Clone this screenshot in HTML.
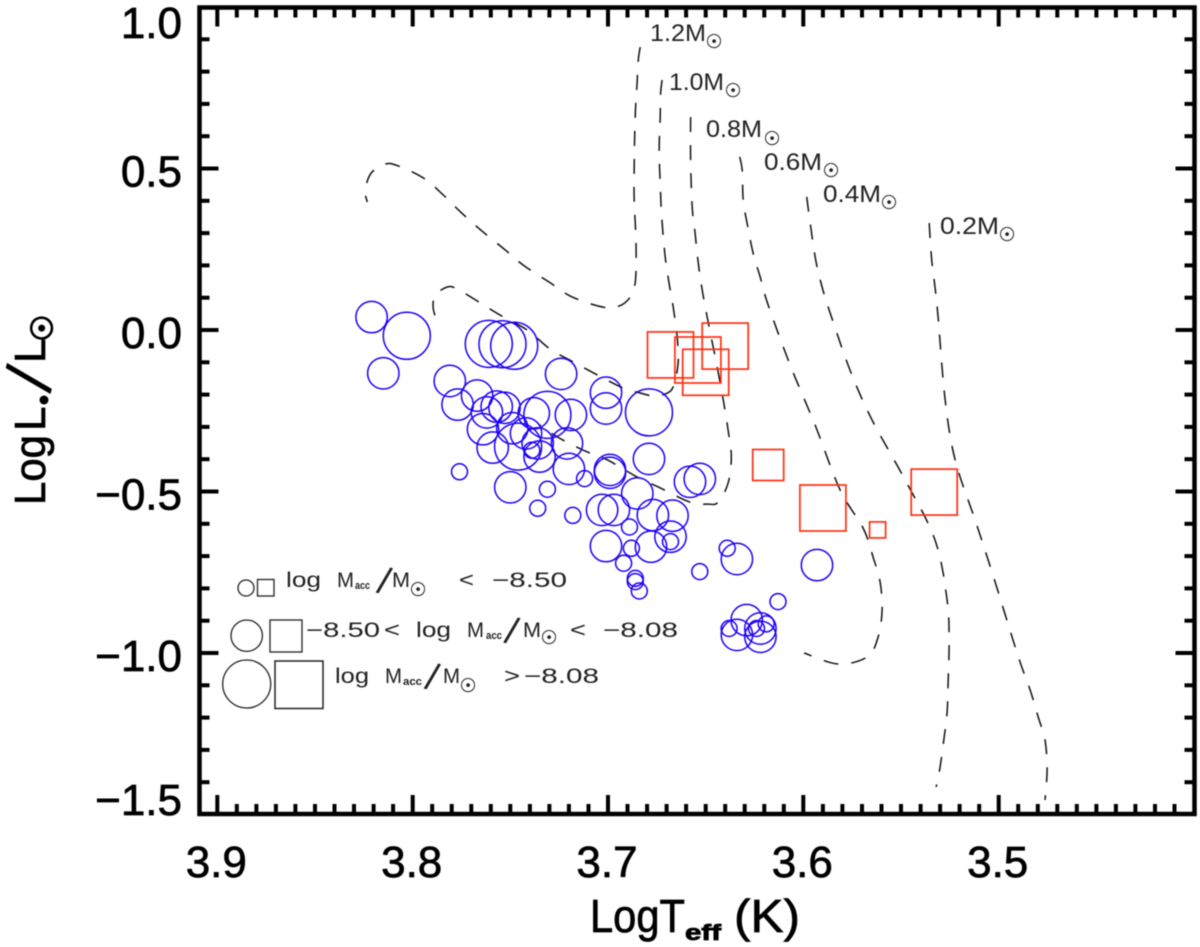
<!DOCTYPE html>
<html lang="en">
<head>
<meta charset="utf-8">
<title>HR diagram</title>
<style>
html,body{margin:0;padding:0;background:#fff;width:1200px;height:947px;overflow:hidden}
svg{display:block;position:absolute;left:0;top:0;filter:blur(0.4px)}
text{font-family:"Liberation Sans","DejaVu Sans",sans-serif}
.big{font-size:44px;fill:#000;stroke:#000;stroke-width:.7px}
.leg{font-size:21px;fill:#222}
.mass{font-size:24px;fill:#222}
.acc{font-size:11px;fill:#222;font-weight:bold}
.slash{font-size:38px;fill:#222;text-anchor:middle}
.sun{font-family:"DejaVu Sans",sans-serif;font-size:19px;fill:#222;stroke:#222;stroke-width:.3px;text-anchor:middle}
</style>
</head>
<body>
<svg id="chart" xmlns="http://www.w3.org/2000/svg" width="1200" height="947" viewBox="0 0 1200 947">
  <rect width="1200" height="947" fill="#fff"/>
  <g id="tracks"></g>
  <g id="stars"></g>
  <g id="axes"></g>

  <g transform="translate(45,503) rotate(-90)">
    <text class="big" x="-2" y="0" textLength="70" lengthAdjust="spacingAndGlyphs">Log</text>
    <text class="big" x="72" y="0">L</text>
    <circle cx="103" cy="-1" r="4.5" fill="#000"/>
    <text transform="translate(124.5,-16) rotate(15)" x="0" y="24" text-anchor="middle" style="font-size:68px;fill:#000">/</text>
    <text class="big" x="140" y="0">L</text>
    <text class="sun" x="175" y="7.5" style="font-size:30px;fill:#000;stroke:#000;stroke-width:1.5px">☉</text>
  </g>

  <g>
    <text class="big" x="590" y="932" style="font-size:46px" textLength="95" lengthAdjust="spacingAndGlyphs">LogT</text>
    <text x="685" y="940" style="font-size:22px;font-weight:bold;stroke:#000;stroke-width:.8px" textLength="36" lengthAdjust="spacingAndGlyphs">eff</text>
    <text class="big" x="734" y="932" style="font-size:46px" textLength="66" lengthAdjust="spacingAndGlyphs">(K)</text>
  </g>

  <g>
    <g><text class="mass" x="650" y="41" textLength="56" lengthAdjust="spacingAndGlyphs">1.2M</text><text class="sun" x="714" y="48">☉</text></g>
    <g><text class="mass" x="669" y="90" textLength="55" lengthAdjust="spacingAndGlyphs">1.0M</text><text class="sun" x="733" y="97">☉</text></g>
    <g><text class="mass" x="706" y="137" textLength="56" lengthAdjust="spacingAndGlyphs">0.8M</text><text class="sun" x="772" y="145">☉</text></g>
    <g><text class="mass" x="764" y="170" textLength="58" lengthAdjust="spacingAndGlyphs">0.6M</text><text class="sun" x="831" y="177">☉</text></g>
    <g><text class="mass" x="823" y="202" textLength="58" lengthAdjust="spacingAndGlyphs">0.4M</text><text class="sun" x="889" y="209">☉</text></g>
    <g><text class="mass" x="940" y="234" textLength="59" lengthAdjust="spacingAndGlyphs">0.2M</text><text class="sun" x="1007" y="241">☉</text></g>
  </g>

  <g fill="none">
    <g>
      <circle cx="246" cy="588" r="8" stroke="#222" stroke-width="1.3"/>
      <rect x="257.5" y="579.5" width="16.5" height="16.5" stroke="#222" stroke-width="1.3"/>
      <text class="leg" x="286" y="587" textLength="35" lengthAdjust="spacingAndGlyphs">log</text>
      <text class="leg" x="337" y="587" textLength="17" lengthAdjust="spacingAndGlyphs">M</text>
      <text class="acc" x="355" y="589" textLength="15" lengthAdjust="spacingAndGlyphs">acc</text>
      <text class="slash" transform="translate(384.5,580) rotate(15)" x="0" y="14">/</text>
      <text class="leg" x="392" y="587" textLength="18" lengthAdjust="spacingAndGlyphs">M</text>
      <text class="sun" x="418" y="596">☉</text>
      <text class="leg" x="459" y="587" textLength="15" lengthAdjust="spacingAndGlyphs">&lt;</text>
      <text class="leg" x="492" y="587" textLength="75" lengthAdjust="spacingAndGlyphs">−8.50</text>
    </g>
    <g>
      <circle cx="246.7" cy="635.7" r="15.7" stroke="#222" stroke-width="1.3"/>
      <rect x="270" y="620" width="32" height="32" stroke="#222" stroke-width="1.3"/>
      <text class="leg" x="306" y="637" textLength="74" lengthAdjust="spacingAndGlyphs">−8.50</text>
      <text class="leg" x="384" y="637" textLength="16" lengthAdjust="spacingAndGlyphs">&lt;</text>
      <text class="leg" x="416" y="637" textLength="35" lengthAdjust="spacingAndGlyphs">log</text>
      <text class="leg" x="467" y="637" textLength="17" lengthAdjust="spacingAndGlyphs">M</text>
      <text class="acc" x="486" y="639" textLength="16" lengthAdjust="spacingAndGlyphs">acc</text>
      <text class="slash" transform="translate(512,630) rotate(15)" x="0" y="14">/</text>
      <text class="leg" x="523" y="637" textLength="18" lengthAdjust="spacingAndGlyphs">M</text>
      <text class="sun" x="549" y="644">☉</text>
      <text class="leg" x="570" y="637" textLength="16" lengthAdjust="spacingAndGlyphs">&lt;</text>
      <text class="leg" x="603" y="637" textLength="75" lengthAdjust="spacingAndGlyphs">−8.08</text>
    </g>
    <g>
      <circle cx="246.7" cy="684" r="24" stroke="#222" stroke-width="1.3"/>
      <rect x="275" y="661" width="48" height="47.5" stroke="#222" stroke-width="1.5"/>
      <text class="leg" x="335" y="683" textLength="34" lengthAdjust="spacingAndGlyphs">log</text>
      <text class="leg" x="385" y="683" textLength="17" lengthAdjust="spacingAndGlyphs">M</text>
      <text class="acc" x="403" y="685" textLength="19" lengthAdjust="spacingAndGlyphs">acc</text>
      <text class="slash" transform="translate(432.5,676) rotate(15)" x="0" y="14">/</text>
      <text class="leg" x="443" y="683" textLength="17" lengthAdjust="spacingAndGlyphs">M</text>
      <text class="sun" x="468" y="692">☉</text>
      <text class="leg" x="504" y="683" textLength="16" lengthAdjust="spacingAndGlyphs">&gt;</text>
      <text class="leg" x="524" y="683" textLength="75" lengthAdjust="spacingAndGlyphs">−8.08</text>
    </g>
  </g>
</svg>
<script>
// ---- data ----
var xTickLabels = ["3.9","3.8","3.7","3.6","3.5"];
var yTickLabels = ["1.0","0.5","0.0","−0.5","−1.0","−1.5"];
var xMajorTicks = [3.9,3.8,3.7,3.6,3.5];
var yMajorTicks = [1.0,0.5,0.0,-0.5,-1.0,-1.5];

var circleLogT = [3.821,3.803,3.815,3.761,3.754,3.748,3.781,3.724,3.701,3.701,3.679,3.777,3.767,3.762,3.757,3.753,3.764,3.738,3.731,3.719,3.759,3.746,3.735,3.721,3.749,3.742,3.736,3.739,3.720,3.699,3.699,3.679,3.712,3.776,3.750,3.731,3.736,3.718,3.703,3.697,3.685,3.677,3.667,3.689,3.701,3.688,3.678,3.668,3.668,3.692,3.686,3.686,3.684,3.658,3.653,3.653,3.639,3.634,3.593,3.613,3.629,3.638,3.634,3.622,3.622,3.619,3.624];
var circleLogL = [0.040,-0.018,-0.134,-0.043,-0.044,-0.049,-0.158,-0.136,-0.194,-0.243,-0.255,-0.231,-0.203,-0.255,-0.237,-0.241,-0.307,-0.258,-0.263,-0.263,-0.364,-0.361,-0.392,-0.351,-0.304,-0.320,-0.351,-0.372,-0.430,-0.433,-0.442,-0.399,-0.460,-0.439,-0.487,-0.493,-0.552,-0.574,-0.557,-0.557,-0.506,-0.573,-0.575,-0.610,-0.669,-0.676,-0.671,-0.640,-0.655,-0.722,-0.769,-0.779,-0.808,-0.470,-0.461,-0.748,-0.676,-0.709,-0.728,-0.841,-0.898,-0.924,-0.944,-0.924,-0.950,-0.910,-0.924];
var circleSizeClass = [1,2,1,2,2,2,1,1,1,1,2,1,1,1,1,1,1,1,2,1,1,2,1,1,1,1,1,0,1,1,1,1,0,0,1,0,0,0,1,1,1,1,1,0,1,0,1,1,0,0,0,0,0,1,1,0,0,1,1,0,1,0,1,1,1,0,0];

var squareLogT = [3.668,3.654,3.650,3.640,3.618,3.590,3.562,3.533];
var squareLogL = [-0.077,-0.093,-0.131,-0.050,-0.418,-0.551,-0.619,-0.502];
var squareSizeClass = [2,2,2,2,1,2,0,2];

var track12T = [3.6835,3.6845,3.6851,3.6861,3.6866,3.6866,3.6858,3.6856,3.6861,3.6886,3.6943,3.7025,3.7183,3.7296,3.7434,3.7526,3.7639,3.7754,3.7843,3.7946,3.8074,3.814,3.8212,3.8243,3.8232];
var track12L = [0.876,0.836,0.765,0.659,0.505,0.402,0.300,0.217,0.146,0.102,0.074,0.071,0.102,0.146,0.201,0.248,0.303,0.365,0.418,0.471,0.508,0.514,0.486,0.433,0.396];
var track10T = [3.6723,3.673,3.6733,3.6738,3.6733,3.6725,3.6707,3.6684,3.6666,3.6646,3.6641,3.6666,3.6707,3.6769,3.6835,3.6922,3.7055,3.7178,3.7296,3.7414,3.7552,3.7654,3.7772,3.7823,3.7884,3.7895,3.7874];
var track10L = [0.774,0.737,0.659,0.557,0.455,0.350,0.226,0.133,0.071,-0.022,-0.102,-0.176,-0.198,-0.204,-0.195,-0.180,-0.139,-0.099,-0.059,0,0.046,0.084,0.127,0.133,0.108,0.068,0.025];
var track08T = [3.6577,3.6577,3.6569,3.6554,3.6538,3.6515,3.6492,3.6441,3.641,3.6385,3.6369,3.6385,3.6436,3.6487,3.6579,3.6733,3.6851,3.7004,3.7127,3.726,3.7347];
var track08L = [0.659,0.526,0.381,0.300,0.207,0.115,0.040,-0.115,-0.217,-0.310,-0.393,-0.474,-0.533,-0.539,-0.533,-0.489,-0.455,-0.402,-0.372,-0.331,-0.294];
var track06T = [3.6326,3.6313,3.6308,3.6288,3.6257,3.6221,3.618,3.6068,3.594,3.5812,3.5694,3.5643,3.5607,3.5597,3.5617,3.5673,3.5822,3.5996];
var track06L = [0.536,0.495,0.402,0.331,0.238,0.164,0.077,-0.108,-0.294,-0.495,-0.613,-0.703,-0.780,-0.867,-0.950,-1.012,-1.034,-1.000];
var track04T = [3.5983,3.5965,3.5937,3.5904,3.5863,3.5761,3.5648,3.5479,3.5326,3.5264,3.5254,3.5259,3.5264,3.5279,3.53,3.532];
var track04L = [0.412,0.331,0.217,0.133,0.053,-0.124,-0.279,-0.464,-0.650,-0.836,-0.966,-1.093,-1.183,-1.260,-1.353,-1.415];
var track02T = [3.5356,3.5343,3.5326,3.531,3.5274,3.5223,3.5121,3.5029,3.4906,3.4839,3.4798,3.4763,3.4752,3.4763];
var track02L = [0.331,0.217,0.133,0.040,-0.217,-0.402,-0.588,-0.759,-1.0,-1.115,-1.198,-1.269,-1.362,-1.455];

// ---- axis functions ----
function xScale(t){ return 217.3 + (3.9 - t) * 1953.5; }
function yScale(l){ return 330 - l * 323; }
var circleRadii = [8, 15.7, 23.5];
var squareSides = [16, 31, 46];
var NS = 'http://www.w3.org/2000/svg';
function mk(tag, parent, attrs){
  var e = document.createElementNS(NS, tag);
  for (var k in attrs) e.setAttribute(k, attrs[k]);
  parent.appendChild(e);
  return e;
}
function smoothPath(T, L){
  var p = T.map(function(t, i){ return [xScale(t), yScale(L[i])]; });
  var d = 'M' + p[0][0].toFixed(1) + ' ' + p[0][1].toFixed(1);
  for (var i = 0; i < p.length - 1; i++){
    var a = p[Math.max(i - 1, 0)], b = p[i], c = p[i + 1], e = p[Math.min(i + 2, p.length - 1)];
    d += 'C' + (b[0] + (c[0] - a[0]) / 6).toFixed(1) + ' ' + (b[1] + (c[1] - a[1]) / 6).toFixed(1) + ' ' +
         (c[0] - (e[0] - b[0]) / 6).toFixed(1) + ' ' + (c[1] - (e[1] - b[1]) / 6).toFixed(1) + ' ' +
         c[0].toFixed(1) + ' ' + c[1].toFixed(1);
  }
  return d;
}

// ---- tracks ----
var tracksG = document.getElementById('tracks');
[[track12T,track12L,'1-2'],[track10T,track10L,'1-0'],[track08T,track08L,'0-8'],[track06T,track06L,'0-6'],[track04T,track04L,'0-4'],[track02T,track02L,'0-2']].forEach(function(tr){
  var el = mk('path', tracksG, {d: smoothPath(tr[0], tr[1]), fill:'none', stroke:'#111', 'stroke-width':'1.5', 'stroke-dasharray':'15 13'});
  
  
});

// ---- stars ----
var starsG = document.getElementById('stars');
circleLogT.forEach(function(t, i){
  var el = mk('circle', starsG, {cx: xScale(t).toFixed(1), cy: yScale(circleLogL[i]).toFixed(1), r: circleRadii[circleSizeClass[i]], fill:'none', stroke:'#1c00f5', 'stroke-width':'1.5'});
  
  
});
squareLogT.forEach(function(t, i){
  var s = squareSides[squareSizeClass[i]];
  var el = mk('rect', starsG, {x: (xScale(t) - s / 2).toFixed(1), y: (yScale(squareLogL[i]) - s / 2).toFixed(1), width: s, height: s, fill:'none', stroke:'#ff3010', 'stroke-width':'1.7'});
  
  
});

// ---- axes ----
var axesG = document.getElementById('axes');
var frameL = 199.5, frameR = 1194.5, frameT = 7.5, frameB = 814;
var frame = mk('rect', axesG, {x: frameL, y: frameT, width: frameR - frameL, height: frameB - frameT, fill:'none', stroke:'#000', 'stroke-width':'4.5'});


function tick(x1, y1, x2, y2, name){
  var el = mk('line', axesG, {x1:x1, y1:y1, x2:x2, y2:y2, stroke:'#000', 'stroke-width':'4'});
  
  
}
for (var i = 0; i < 50; i++){
  var tv = 3.9 - i * 0.01, xp = xScale(tv).toFixed(1), len = i % 10 === 0 ? 19 : 10;
  tick(xp, frameB, xp, frameB - len, 'x-tick-bottom');
  tick(xp, frameT, xp, frameT + len, 'x-tick-top');
}
for (var j = 1; j < 25; j++){
  var lv = 1 - j * 0.1, yp = yScale(lv).toFixed(1), ylen = j % 5 === 0 ? 19 : 10;
  tick(frameL, yp, frameL + ylen, yp, 'y-tick-left');
  tick(frameR, yp, frameR - ylen, yp, 'y-tick-right');
}
xMajorTicks.forEach(function(v, i){
  var el = mk('text', axesG, {x: (xScale(v) - 1).toFixed(1), y: 877, 'text-anchor':'middle', 'class':'big'});
  el.textContent = xTickLabels[i];
  
  
});
yMajorTicks.forEach(function(v, i){
  var by = Math.min(815, Math.max(38, yScale(v) + 18));
  var el = mk('text', axesG, {x: 182, y: by.toFixed(1), 'text-anchor':'end', 'class':'big'});
  el.textContent = yTickLabels[i];
  
  
});
</script>
</body>
</html>
